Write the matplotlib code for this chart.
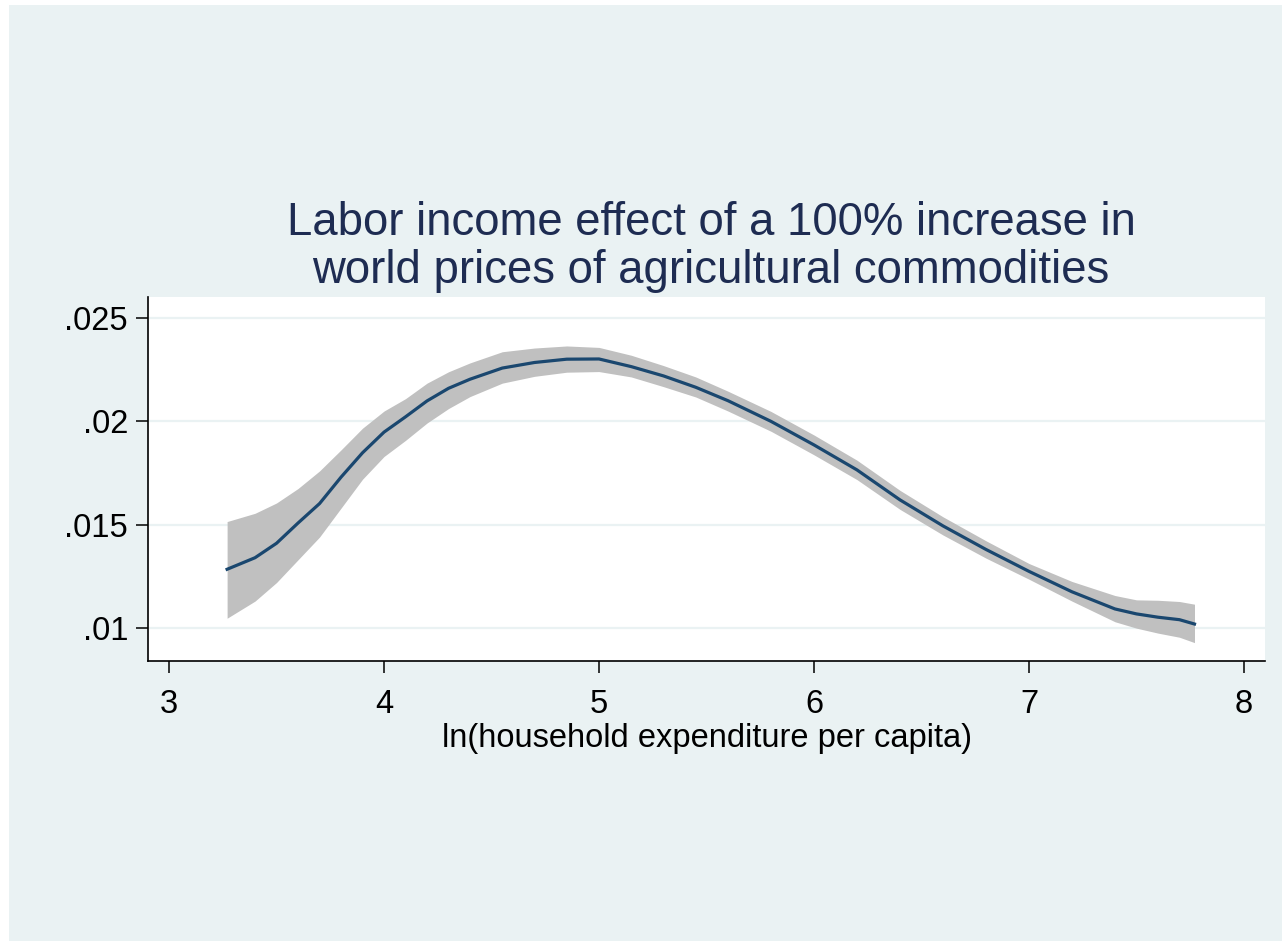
import matplotlib
matplotlib.use("Agg")
import matplotlib.pyplot as plt
from matplotlib.patches import Rectangle

# Local polynomial estimate and its 95% confidence band
lnexp = [3.27, 3.40, 3.50, 3.60, 3.70, 3.80, 3.90, 4.00, 4.10, 4.20, 4.30,
         4.40, 4.55, 4.70, 4.85, 5.00, 5.15, 5.30, 5.45, 5.60, 5.80, 6.00,
         6.20, 6.40, 6.60, 6.80, 7.00, 7.20, 7.40, 7.50, 7.60, 7.70, 7.77]
effect = [0.01284, 0.01340, 0.01410, 0.01508, 0.01602, 0.01730, 0.01848,
          0.01948, 0.02022, 0.02099, 0.02160, 0.02204, 0.02258, 0.02285,
          0.02301, 0.02302, 0.02265, 0.02220, 0.02165, 0.02100, 0.02000,
          0.01886, 0.01765, 0.01620, 0.01494, 0.01380, 0.01274, 0.01175,
          0.01092, 0.01068, 0.01052, 0.01040, 0.01019]
ci_upper = [0.01515, 0.01555, 0.01605, 0.01675, 0.01760, 0.01862, 0.01967,
            0.02050, 0.02110, 0.02185, 0.02240, 0.02283, 0.02337, 0.02355,
            0.02365, 0.02358, 0.02320, 0.02270, 0.02215, 0.02146, 0.02048,
            0.01934, 0.01812, 0.01666, 0.01538, 0.01422, 0.01312, 0.01225,
            0.01157, 0.01136, 0.01134, 0.01128, 0.01115]
ci_lower = [0.01047, 0.01130, 0.01220, 0.01330, 0.01440, 0.01580, 0.01720,
            0.01830, 0.01908, 0.01992, 0.02062, 0.02120, 0.02185, 0.02218,
            0.02238, 0.02241, 0.02215, 0.02168, 0.02118, 0.02050, 0.01952,
            0.01838, 0.01718, 0.01574, 0.01450, 0.01338, 0.01236, 0.01130,
            0.01030, 0.00999, 0.00975, 0.00955, 0.00929]

x_ticks = [3, 4, 5, 6, 7, 8]
y_ticks = [0.01, 0.015, 0.02, 0.025]
y_tick_labels = [".01", ".015", ".02", ".025"]

title = "Labor income effect of a 100% increase in\nworld prices of agricultural commodities"
x_label = "ln(household expenditure per capita)"

BG = "#EAF2F3"
LINE = "#1A476F"
BAND = "#C0C0C0"
TITLE_COLOR = "#1E2C52"

W, H = 1282, 941
fig = plt.figure(figsize=(W / 100, H / 100), dpi=100, facecolor="white")
fig.patches.append(Rectangle((9 / W, 0), 1 - 9 / W, 1 - 5 / H,
                             transform=fig.transFigure, facecolor=BG,
                             edgecolor="none", zorder=-10))

left, right, top, bottom = 148, 1265, 297, 661
ax = fig.add_axes([left / W, 1 - bottom / H, (right - left) / W, (bottom - top) / H])
ax.set_facecolor("white")

ax.fill_between(lnexp, ci_lower, ci_upper, color=BAND, linewidth=0, zorder=2)
ax.plot(lnexp, effect, color=LINE, linewidth=2.3, zorder=3,
        solid_joinstyle="round")

ax.set_xlim(2.902, 8.098)
ax.set_ylim(0.00840, 0.02602)

ax.set_yticks(y_ticks)
ax.set_yticklabels(y_tick_labels)
ax.set_xticks(x_ticks)
ax.set_xticklabels([str(t) for t in x_ticks])

for yv in y_ticks:
    ax.axhline(yv, color=BG, linewidth=1.6, zorder=1)

for s in ("top", "right"):
    ax.spines[s].set_visible(False)
for s in ("left", "bottom"):
    ax.spines[s].set_color("black")
    ax.spines[s].set_linewidth(1.2)

font = ["Liberation Sans", "DejaVu Sans"]
ax.tick_params(axis="both", direction="out", length=8.8, width=1.1,
               color="black", labelcolor="black", labelsize=23.5)
ax.tick_params(axis="x", pad=11.5)
ax.tick_params(axis="y", pad=5.6)
for lab in ax.get_xticklabels() + ax.get_yticklabels():
    lab.set_family(font)

ax.set_xlabel(x_label, fontsize=23.5, family=font, color="black", labelpad=2)

fig.text(711 / W, 1 - 247 / H, title, ha="center", va="center",
         fontsize=32.8, color=TITLE_COLOR, family=font, linespacing=1.1)

fig.savefig("out.png", dpi=100, facecolor=fig.get_facecolor())
